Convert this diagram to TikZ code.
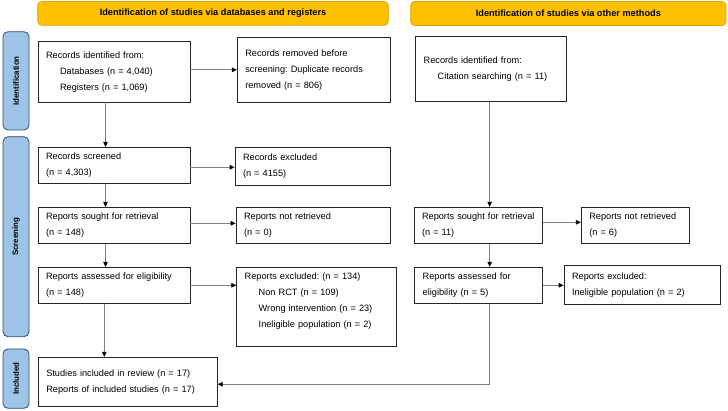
\documentclass[tikz,border=0pt]{standalone}
\usepackage{fontspec}
\setmainfont{Liberation Sans}
\usetikzlibrary{arrows.meta}
\definecolor{hdrfill}{HTML}{FFC000}
\definecolor{hdrdraw}{HTML}{D9A300}
\definecolor{sidefill}{HTML}{9DC3E6}
\definecolor{sidedraw}{HTML}{2F4B6E}
\definecolor{connc}{HTML}{808080}
\frenchspacing
\begin{document}
\begin{tikzpicture}[x=1pt,y=-1pt,
  every node/.style={font=\fontsize{9.2}{16}\selectfont, inner sep=0pt},
  box/.style={draw=black!85, line width=0.8pt, fill=white, inner xsep=8pt, align=left},
  hdr/.style={draw=hdrdraw, fill=hdrfill, rounded corners=4pt, line width=0.7pt, font=\bfseries\fontsize{9.2}{11}\selectfont},
  side/.style={draw=sidedraw, fill=sidefill, rounded corners=5pt, line width=0.8pt, rotate=90, font=\bfseries\fontsize{7.9}{9}\selectfont},
  conn/.style={draw=connc, line width=0.8pt, -{Triangle[length=5pt,width=4.5pt,color=black]}}
]
\useasboundingbox (0,0) rectangle (728,411);

% headers
\node[hdr, minimum width=350.6pt, minimum height=23.8pt] (h1) at (213,13.4) {Identification of studies via databases and registers};
\node[hdr, minimum width=315.3pt, minimum height=24pt] (h2) at (568.35,13.5) {Identification of studies via other methods};

% side bars
\node[side, minimum width=98.3pt, minimum height=26pt] (s1) at (16,80.85) {Identification};
\node[side, minimum width=200pt, minimum height=26pt] (s2) at (16,236.7) {Screening};
\node[side, minimum width=59.3pt, minimum height=26pt] (s3) at (16,378.65) {Included};

% left column
\node[box, text width=136pt, minimum height=60.3pt] (a1) at (114,71.85)
  {Records identified from:\\\hspace*{14pt}Databases (n = 4,040)\\\hspace*{14pt}Registers (n = 1,069)};
\node[box, text width=136.7pt, minimum height=65pt] (a2) at (313.65,69.8)
  {Records removed before\\\mbox{screening: Duplicate records}\\removed (n = 806)};
\node[box, text width=136pt, minimum height=36pt] (a3) at (114,165.3)
  {Records screened\\(n = 4,303)};
\node[box, text width=139pt, minimum height=37.7pt] (a4) at (312.5,166.15)
  {Records excluded\\(n = 4155)};
\node[box, text width=136pt, minimum height=36pt] (a5) at (114,225.3)
  {Reports sought for retrieval\\(n = 148)};
\node[box, text width=138pt, minimum height=35.6pt] (a6) at (313,225.5)
  {Reports not retrieved\\(n = 0)};
\node[box, text width=136pt, minimum height=36pt] (a7) at (114,285.3)
  {\mbox{Reports assessed for eligibility}\\(n = 148)};
\node[box, text width=144pt, minimum height=79.7pt] (a8) at (316.7,306.85) {};
\node[text width=144pt, align=left, anchor=center] (a8t) at (316.7,301.2)
  {Reports excluded: (n = 134)\\\hspace*{14pt}Non RCT (n = 109)\\\hspace*{14pt}Wrong intervention (n = 23)\\\hspace*{14pt}\mbox{Ineligible population (n = 2)}};
\node[box, text width=163pt, minimum height=48.7pt] (a9) at (127.8,381.65)
  {Studies included in review (n = 17)\\Reports of included studies (n = 17)};

% right column
\node[box, text width=135pt, minimum height=65.7pt] (b1) at (491.2,68.85)
  {Records identified from:\\\hspace*{14pt}Citation searching (n = 11)};
\node[box, text width=112.3pt, minimum height=36pt] (b2) at (478.15,225.3)
  {\mbox{Reports sought for retrieval}\\(n = 11)};
\node[box, text width=92.4pt, minimum height=35.6pt] (b3) at (635.5,225.5)
  {\mbox{Reports not retrieved}\\(n = 6)};
\node[box, text width=111.6pt, minimum height=36pt] (b4) at (478.5,285.3)
  {Reports assessed for\\eligibility (n = 5)};
\node[box, text width=140pt, minimum height=39.7pt] (b5) at (642,284.85)
  {Reports excluded:\\\mbox{Ineligible population (n = 2)}};

% connector guide coordinates
\coordinate (ax) at (105.5,0);
\coordinate (ax2) at (104.3,0);
\coordinate (bx) at (489.7,0);

% connectors
\draw[conn] (a1.east |- a2.west) -- (a2.west);
\draw[conn] (a1.south -| ax) -- (a3.north -| ax);
\draw[conn] ([yshift=-2pt]a3.east) -- ([yshift=-2pt]a3.east -| a4.west);
\draw[conn] (a3.south -| ax) -- (a5.north -| ax);
\draw[conn] ([yshift=2pt]a5.east) -- ([yshift=2pt]a5.east -| a6.west);
\draw[conn] (a5.south -| ax) -- (a7.north -| ax);
\draw[conn] (a7.east) -- (a7.east -| a8.west);
\draw[conn] (a7.south -| ax2) -- (a9.north -| ax2);
\draw[conn] (b1.south -| bx) -- (b2.north -| bx);
\draw[conn] ([yshift=3pt]b2.east) -- ([yshift=3pt]b2.east -| b3.west);
\draw[conn] (b2.south -| bx) -- (b4.north -| bx);
\draw[conn] (b4.east) -- (b4.east -| b5.west);
\draw[conn] (b4.south -| bx) |- ([yshift=-2.6pt]a9.east);
\end{tikzpicture}
\end{document}
